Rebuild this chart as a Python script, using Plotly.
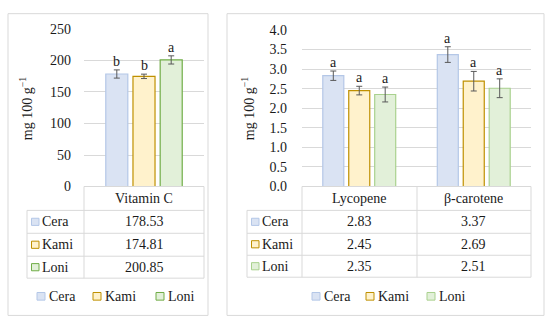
import plotly.graph_objects as go

# ---------------- data ----------------
series = ["Cera", "Kami", "Loni"]
vit_cats = ["Vitamin C"]
vit_vals = {"Cera": [178.53], "Kami": [174.81], "Loni": [200.85]}
vit_err = {"Cera": [6.5], "Kami": [3.5], "Loni": [6.5]}
vit_letters = {"Cera": ["b"], "Kami": ["b"], "Loni": ["a"]}

car_cats = ["Lycopene", "β-carotene"]
car_vals = {"Cera": [2.83, 3.37], "Kami": [2.45, 2.69], "Loni": [2.35, 2.51]}
car_err = {"Cera": [0.12, 0.20], "Kami": [0.11, 0.25], "Loni": [0.19, 0.24]}
car_letters = {"Cera": ["a", "a"], "Kami": ["a", "a"], "Loni": ["a", "a"]}

y_title = "mg 100 g<sup>−1</sup>"

# ---------------- style ----------------
W, H = 550, 332
FONT = "Liberation Serif, Times New Roman, serif"
TXT = "#1a1a1a"
GRID = "#d9d9d9"
fills = {"Cera": "#dae3f3", "Kami": "#fff2cc", "Loni": "#e2f0d9"}
lines_left = {"Cera": "#b4c7e7", "Kami": "#bf9000", "Loni": "#70ad47"}
lines_right = {"Cera": "#b4c7e7", "Kami": "#bf9000", "Loni": "#a9d18e"}

def PX(x):
    return x / W

def PY(y):
    return 1 - y / H

BARGAP, BARGROUPGAP = 0.32, 0.19

fig = go.Figure()

# bars
for s in series:
    fig.add_trace(go.Bar(
        x=vit_cats, y=vit_vals[s], name=s, xaxis="x", yaxis="y",
        marker=dict(color=fills[s], line=dict(color=lines_left[s], width=1.2)),
        error_y=dict(type="data", array=vit_err[s], color="#595959", thickness=1, width=3),
        showlegend=False, hoverinfo="skip"))
for s in series:
    fig.add_trace(go.Bar(
        x=car_cats, y=car_vals[s], name=s, xaxis="x2", yaxis="y2",
        marker=dict(color=fills[s], line=dict(color=lines_right[s], width=1.2)),
        error_y=dict(type="data", array=car_err[s], color="#595959", thickness=1, width=3),
        showlegend=False, hoverinfo="skip"))

shapes = []
annotations = []

def hline(x0, x1, y):
    shapes.append(dict(type="line", xref="paper", yref="paper",
                       x0=PX(x0), x1=PX(x1), y0=PY(y), y1=PY(y),
                       line=dict(color=GRID, width=1)))

def vline(x, y0, y1):
    shapes.append(dict(type="line", xref="paper", yref="paper",
                       x0=PX(x), x1=PX(x), y0=PY(y0), y1=PY(y1),
                       line=dict(color=GRID, width=1)))

def key(x, yc, s, linecolors, size=7.5):
    shapes.append(dict(type="rect", xref="paper", yref="paper",
                       x0=PX(x), x1=PX(x + size), y0=PY(yc + size / 2), y1=PY(yc - size / 2),
                       fillcolor=fills[s], line=dict(color=linecolors[s], width=1)))

def text(x, y, t, xref="paper", xanchor="center", size=14, **kw):
    annotations.append(dict(x=x, y=y, xref=xref, yref="paper", text=t,
                            showarrow=False, xanchor=xanchor, yanchor="middle",
                            font=dict(family=FONT, size=size, color=TXT), **kw))

# panel borders
for (x0, y0, x1, y1) in [(8, 7, 208, 323), (227, 7, 544, 323)]:
    shapes.append(dict(type="rect", xref="paper", yref="paper",
                       x0=PX(x0), x1=PX(x1), y0=PY(y1), y1=PY(y0),
                       line=dict(color=GRID, width=1), fillcolor="rgba(0,0,0,0)"))

# ---------- tables ----------
def table(xref, cats, vals, lab_x0, plot_x0, plot_x1, dividers, rows, linecolors, decimals):
    top, r1, r2, r3, r4 = rows
    hline(plot_x0, plot_x1, top)
    for r in (r1, r2, r3, r4):
        hline(lab_x0, plot_x1, r)
    vline(plot_x0, top, r4)
    vline(plot_x1, top, r4)
    vline(lab_x0, r1, r4)
    for d in dividers:
        vline(d, top, r4)
    for c in cats:
        text(c, PY((top + r1) / 2), c, xref=xref)
    bounds = [r1, r2, r3, r4]
    for i, s in enumerate(series):
        yc = (bounds[i] + bounds[i + 1]) / 2
        key(lab_x0 + 4.5, yc, s, linecolors)
        text(PX(lab_x0 + 13), PY(yc), s, xanchor="left")
        for j, c in enumerate(cats):
            text(c, PY(yc), f"{vals[s][j]:.{decimals}f}", xref=xref)

table("x", vit_cats, vit_vals, 27, 84, 204, [], (188, 213, 237, 261, 284), lines_left, 2)
table("x2", car_cats, car_vals, 247, 302, 531, [417], (188, 213, 237, 260, 283), lines_right, 2)

# ---------- legends (below tables) ----------
def legend(xs, yc, linecolors):
    for s, x in zip(series, xs):
        key(x, yc, s, linecolors, size=8)
        text(PX(x + 10), PY(yc), s, xanchor="left")

legend([37, 93, 156], 303, lines_left)
legend([312, 366, 427], 303, lines_right)

# ---------- significance letters ----------
def letters(xref, cats, vals, errs, lets, pitch):
    for i, s in enumerate(series):
        for j, c in enumerate(cats):
            annotations.append(dict(x=c, y=vals[s][j] + errs[s][j], xref=xref,
                                    yref=xref.replace("x", "y"), text=lets[s][j],
                                    showarrow=False, yanchor="bottom", xanchor="center",
                                    xshift=(i - 1) * pitch, yshift=-1,
                                    font=dict(family=FONT, size=14, color=TXT)))

letters("x", vit_cats, vit_vals, vit_err, vit_letters, (204 - 84) * (1 - BARGAP) / 3)
letters("x2", car_cats, car_vals, car_err, car_letters, (531 - 302) / 2 * (1 - BARGAP) / 3)

# y titles
for xpos in (26, 248):
    annotations.append(dict(x=PX(xpos), y=PY(107), xref="paper", yref="paper", text=y_title,
                            textangle=-90, showarrow=False, xanchor="center", yanchor="middle",
                            font=dict(family=FONT, size=14, color=TXT)))

axis_font = dict(family=FONT, size=14, color=TXT)
fig.update_layout(
    width=W, height=H,
    margin=dict(l=0, r=0, t=0, b=0),
    paper_bgcolor="white", plot_bgcolor="white",
    font=dict(family=FONT, size=14, color=TXT),
    barmode="group", bargap=BARGAP, bargroupgap=BARGROUPGAP,
    showlegend=False,
    xaxis=dict(domain=[PX(84), PX(204)], range=[-0.5, 0.5], showticklabels=False,
               showgrid=False, zeroline=False, showline=False, ticks="", anchor="y"),
    yaxis=dict(domain=[PY(188), PY(23)], range=[0, 250], dtick=50, showgrid=True,
               gridcolor=GRID, gridwidth=1, zeroline=False, showline=False,
               ticks="", tickfont=axis_font, ticklabelstandoff=12, anchor="x"),
    xaxis2=dict(domain=[PX(302), PX(531)], range=[-0.5, 1.5], showticklabels=False,
                showgrid=False, zeroline=False, showline=False, ticks="", anchor="y2"),
    yaxis2=dict(domain=[PY(188), PY(24)], range=[0, 4], dtick=0.5, tickformat=".1f",
                showgrid=True, gridcolor=GRID, gridwidth=1, zeroline=False, showline=False,
                ticks="", tickfont=axis_font, ticklabelstandoff=14, anchor="x2"),
    shapes=shapes, annotations=annotations,
)

fig.write_html("out.html",
               config={"displayModeBar": False, "staticPlot": True},
               post_script="document.body.style.margin='0';document.body.style.padding='0';")
